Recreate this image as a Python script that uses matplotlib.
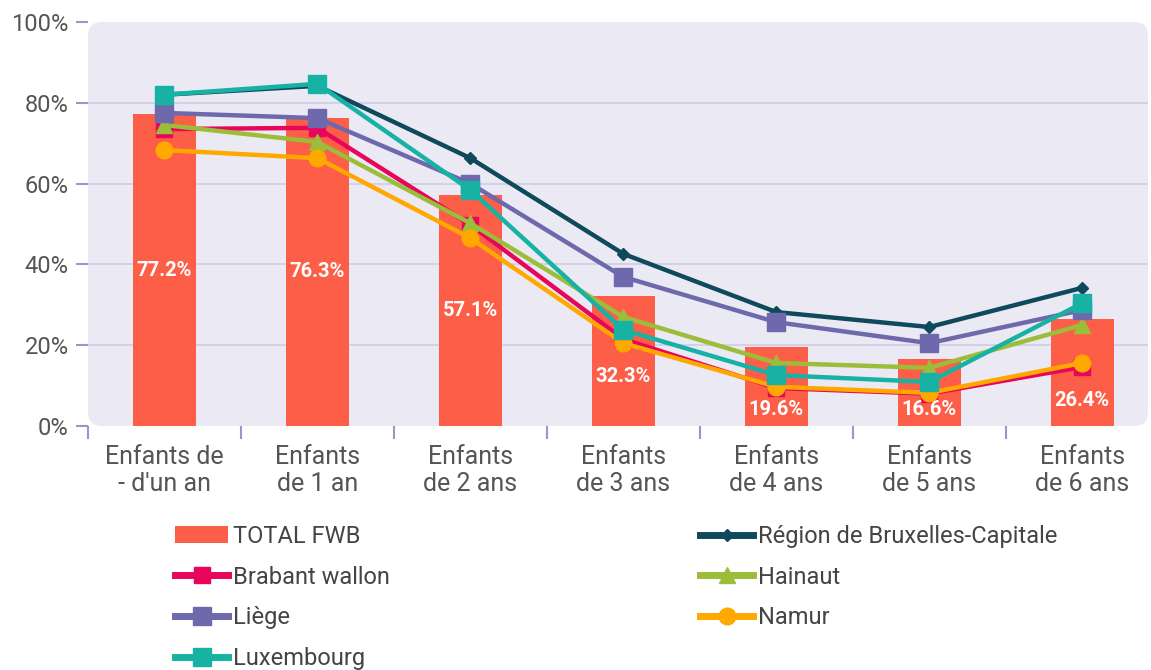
import matplotlib
matplotlib.use("Agg")
import matplotlib.pyplot as plt
from matplotlib.patches import FancyBboxPatch, Patch
from matplotlib.lines import Line2D
import numpy as np

plt.rcParams['font.family'] = ['Roboto', 'DejaVu Sans']

categories = ["Enfants de\n- d'un an", "Enfants\nde 1 an", "Enfants\nde 2 ans", "Enfants\nde 3 ans",
              "Enfants\nde 4 ans", "Enfants\nde 5 ans", "Enfants\nde 6 ans"]
total_fwb = [77.2, 76.3, 57.1, 32.3, 19.6, 16.6, 26.4]
bruxelles = [82.0, 84.2, 66.3, 42.6, 28.2, 24.5, 34.2]
brabant = [73.5, 73.8, 49.8, 21.5, 9.4, 8.0, 14.6]
hainaut = [74.5, 70.3, 50.2, 27.0, 15.6, 14.4, 25.0]
liege = [77.5, 76.2, 60.0, 36.9, 25.7, 20.5, 28.7]
namur = [68.3, 66.3, 46.5, 20.5, 9.7, 8.2, 15.6]
luxembourg = [82.0, 84.7, 58.4, 23.8, 12.6, 10.9, 30.4]

BAR = '#fd5e47'
TXT = '#555555'
TICK = '#9a96c8'
BG = '#ebeaf4'

fig = plt.figure(figsize=(11.51, 6.70), dpi=100)
ax = fig.add_axes([88 / 1151, 1 - 426 / 670, (1148 - 88) / 1151, 404 / 670])
ax.patch.set_visible(False)
ax.add_patch(FancyBboxPatch((0, 0), 1, 1, boxstyle='round,pad=0,rounding_size=0.013',
                            mutation_aspect=2.6, transform=ax.transAxes,
                            facecolor=BG, edgecolor='none', zorder=0))

x = np.arange(len(categories))
for y in [20, 40, 60, 80]:
    ax.axhline(y, color='#cfcbe5', lw=1.2, zorder=1)

ax.bar(x, total_fwb, width=0.41, color=BAR, zorder=2)
for xi, v in zip(x, total_fwb):
    ypos = min(v / 2, max(v - 20, 4))
    ax.text(xi, ypos, f'{v:.1f}%', color='white', ha='center', va='center',
            fontsize=14.5, fontweight='bold', zorder=5)

series = [
    ('Région de Bruxelles-Capitale', bruxelles, '#0e4a5b', 'D', 6),
    ('Brabant wallon', brabant, '#e8065c', 's', 11),
    ('Hainaut', hainaut, '#9bbd3a', '^', 11),
    ('Liège', liege, '#6e69ac', 's', 13),
    ('Namur', namur, '#ffa800', 'o', 12),
    ('Luxembourg', luxembourg, '#18b2a4', 's', 13),
]
for i, (name, vals, col, mk, ms) in enumerate(series):
    ax.plot(x, vals, color=col, lw=3.2, marker=mk, markersize=ms, zorder=3 + i * 0.1)

ax.set_xlim(-0.5, 6.43)
ax.set_ylim(0, 100)
for s in ax.spines.values():
    s.set_visible(False)
ax.set_yticks([0, 20, 40, 60, 80, 100])
ax.set_yticklabels(['0%', '20%', '40%', '60%', '80%', '100%'])
ax.tick_params(axis='y', length=9, width=1.5, color=TICK, labelcolor=TXT, labelsize=17, pad=5)
ax.set_xticks(x)
ax.set_xticklabels(categories, linespacing=1.12)
ax.tick_params(axis='x', which='major', length=0, labelcolor=TXT, labelsize=18, pad=14)
ax.set_xticks(np.arange(-0.5, 6.0, 1.0), minor=True)
ax.tick_params(axis='x', which='minor', length=9, width=1.5, color=TICK, direction='out')

h_total = Patch(facecolor=BAR, edgecolor='none')
handles = {name: Line2D([], [], color=col, lw=5, marker=mk, markersize=ms)
           for name, vals, col, mk, ms in series}

leg_kw = dict(frameon=False, fontsize=17, handlelength=2.25, handletextpad=0.2,
              labelspacing=0.75, labelcolor='#444444', loc='upper left',
              borderpad=0, borderaxespad=0)
fig.legend([h_total, handles['Brabant wallon'], handles['Liège'], handles['Luxembourg']],
           ['TOTAL FWB', 'Brabant wallon', 'Liège', 'Luxembourg'],
           bbox_to_anchor=(175 / 1151, 1 - 525 / 670), **leg_kw)
fig.legend([handles['Région de Bruxelles-Capitale'], handles['Hainaut'], handles['Namur']],
           ['Région de Bruxelles-Capitale', 'Hainaut', 'Namur'],
           bbox_to_anchor=(700 / 1151, 1 - 525 / 670), **leg_kw)

fig.savefig('out.png', dpi=100, facecolor='white')
